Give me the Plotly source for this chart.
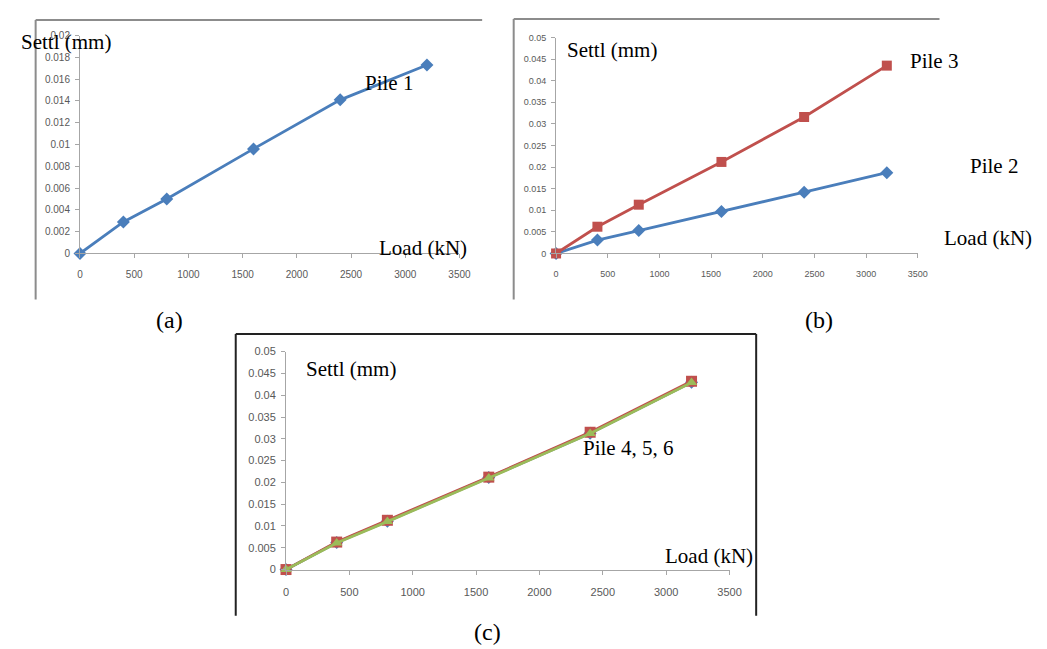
import plotly.graph_objects as go

W, H = 1047, 649

# ---------------- data ----------------
load_kn = [0, 400, 800, 1600, 2400, 3200]

pile1 = [0, 0.0029, 0.0050, 0.0096, 0.0141, 0.0173]

pile2 = [0, 0.0031, 0.0053, 0.0097, 0.0142, 0.0187]
pile3 = [0, 0.0062, 0.0113, 0.0212, 0.0316, 0.0435]

pile4 = [0, 0.0062, 0.0111, 0.0211, 0.0313, 0.0430]
pile5 = [0, 0.0063, 0.0113, 0.0212, 0.0315, 0.0432]
pile6 = [0, 0.0061, 0.0110, 0.0210, 0.0312, 0.0429]

x_ticks = [0, 500, 1000, 1500, 2000, 2500, 3000, 3500]
y_range_a = [0, 0.02]
y_range_bc = [0, 0.05]

BLUE = "#4a7ebb"
RED = "#c0504d"
GREEN = "#9bbb59"


def px(x):
    return x / W


def py(y):
    return 1 - y / H


fig = go.Figure()

# panel (a)
fig.add_trace(go.Scatter(x=load_kn, y=pile1, mode="lines+markers", name="Pile 1",
                         line=dict(color=BLUE, width=2.8),
                         marker=dict(symbol="diamond", size=10, color=BLUE),
                         xaxis="x", yaxis="y", cliponaxis=False))
# panel (b)
fig.add_trace(go.Scatter(x=load_kn, y=pile2, mode="lines+markers", name="Pile 2",
                         line=dict(color=BLUE, width=2.8),
                         marker=dict(symbol="diamond", size=10, color=BLUE),
                         xaxis="x2", yaxis="y2", cliponaxis=False))
fig.add_trace(go.Scatter(x=load_kn, y=pile3, mode="lines+markers", name="Pile 3",
                         line=dict(color=RED, width=2.8),
                         marker=dict(symbol="square", size=10, color=RED),
                         xaxis="x2", yaxis="y2", cliponaxis=False))
# panel (c)
fig.add_trace(go.Scatter(x=load_kn, y=pile4, mode="lines+markers", name="Pile 4",
                         line=dict(color=BLUE, width=2.8),
                         marker=dict(symbol="diamond", size=10, color=BLUE),
                         xaxis="x3", yaxis="y3", cliponaxis=False))
fig.add_trace(go.Scatter(x=load_kn, y=pile5, mode="lines+markers", name="Pile 5",
                         line=dict(color=RED, width=2.8),
                         marker=dict(symbol="square", size=11, color=RED),
                         xaxis="x3", yaxis="y3", cliponaxis=False))
fig.add_trace(go.Scatter(x=load_kn, y=pile6, mode="lines+markers", name="Pile 6",
                         line=dict(color=GREEN, width=2.8),
                         marker=dict(symbol="triangle-up", size=10, color=GREEN),
                         xaxis="x3", yaxis="y3", cliponaxis=False))

AX_COL = "#a6a6a6"
TICK_FONT = dict(family="Liberation Sans, Arial, sans-serif", color="#595959")


def xaxis(domain, anchor, fsize):
    return dict(domain=domain, anchor=anchor, range=[0, 3500], tickvals=x_ticks,
                showgrid=False, zeroline=False, showline=True, linecolor=AX_COL,
                linewidth=1, ticks="outside", ticklen=4, tickcolor=AX_COL,
                tickfont=dict(size=fsize, **TICK_FONT), ticklabelstandoff=8,
                fixedrange=True)


def yaxis(domain, anchor, rng, dtick, fsize):
    return dict(domain=domain, anchor=anchor, range=rng, dtick=dtick, tick0=0,
                showgrid=False, zeroline=False, showline=True, linecolor=AX_COL,
                linewidth=1, ticks="outside", ticklen=4, tickcolor=AX_COL,
                tickfont=dict(size=fsize, **TICK_FONT), ticklabelstandoff=3,
                fixedrange=True)


SERIF = "Liberation Serif, Times New Roman, serif"


def label(x, y, text, size=21):
    return dict(x=px(x), y=py(y), xref="paper", yref="paper", text=text,
                showarrow=False, xanchor="left", yanchor="middle",
                font=dict(family=SERIF, size=size, color="#000"))


annotations = [
    label(8, 29, "Settl (mm)"),
    label(357, 70, "Pile 1"),
    label(371, 238, "Load (kN)"),
    label(145, 312, "(a)", 24),
    label(562, 37, "Settl (mm)"),
    label(910, 48, "Pile 3"),
    label(971, 155, "Pile 2"),
    label(945, 228, "Load (kN)"),
    label(804, 312, "(b)", 24),
    label(297, 362, "Settl (mm)"),
    label(578, 442, "Pile 4, 5, 6"),
    label(661, 552, "Load (kN)"),
    label(468, 630, "(c)", 24),
]


def seg(x0, y0, x1, y1, color, width):
    return dict(type="line", xref="paper", yref="paper",
                x0=px(x0), y0=py(y0), x1=px(x1), y1=py(y1),
                line=dict(color=color, width=width))


shapes = [
    # frame (a)
    seg(25, 6, 25, 291, "#8c8c8c", 2),
    seg(25, 6, 478, 6, "#8c8c8c", 2),
    # frame (b)
    seg(510, 5, 510, 291, "#8c8c8c", 2),
    seg(510, 5, 942, 5, "#8c8c8c", 2),
    # frame (c)
    seg(228, 326, 228, 613, "#222222", 2),
    seg(228, 326, 756, 326, "#222222", 2),
    seg(756, 326, 756, 613, "#222222", 2),
]

fig.update_layout(
    width=W, height=H,
    margin=dict(l=0, r=0, t=0, b=0),
    paper_bgcolor="white", plot_bgcolor="white",
    showlegend=False,
    xaxis=xaxis([px(70), px(455)], "y", 10),
    yaxis=yaxis([py(244), py(22)], "x", y_range_a, 0.002, 10),
    xaxis2=xaxis([px(553), px(920)], "y2", 9),
    yaxis2=yaxis([py(244), py(24)], "x2", y_range_bc, 0.005, 9),
    xaxis3=xaxis([px(279), px(729)], "y3", 11),
    yaxis3=yaxis([py(566), py(344)], "x3", y_range_bc, 0.005, 11),
    annotations=annotations,
    shapes=shapes,
)

fig.write_html("out.html", config=dict(displayModeBar=False))
